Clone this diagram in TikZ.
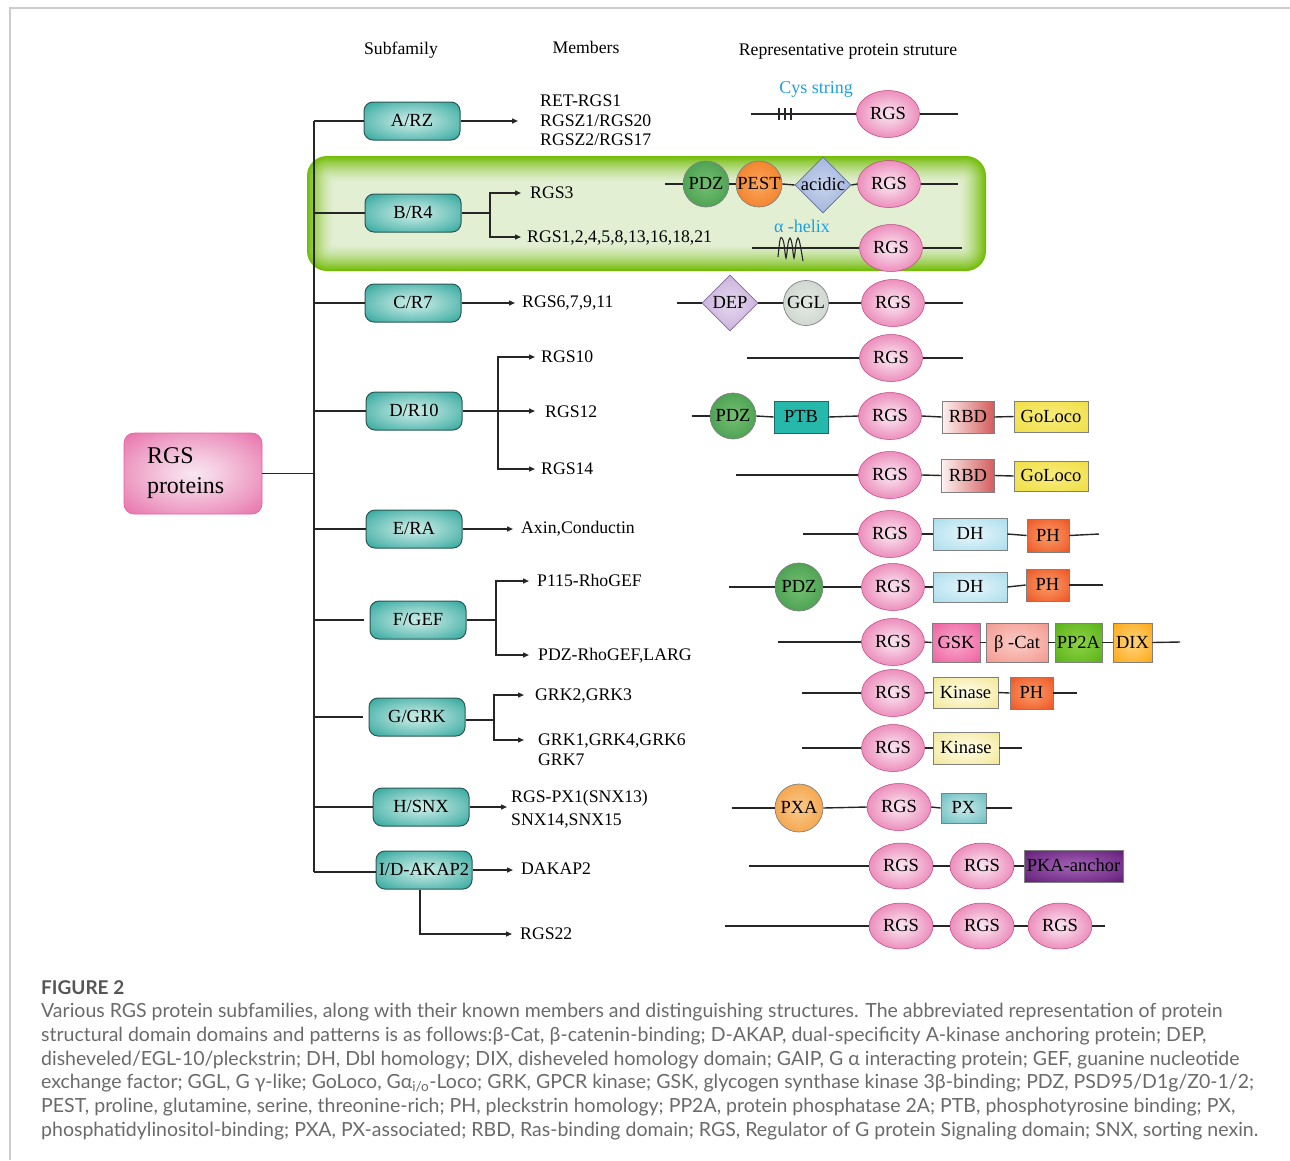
\documentclass[tikz,border=0pt]{standalone}
\usepackage{fontspec}
\setmainfont{Liberation Serif}
\newfontfamily\capfont{Lato}
\usetikzlibrary{shapes.geometric,arrows.meta,calc}
\definecolor{tealout}{HTML}{129A8F}
\definecolor{tealin}{HTML}{CBECE7}
\definecolor{tealborder}{HTML}{2C5753}
\definecolor{pinkout}{HTML}{E55FA0}
\definecolor{pinkin}{HTML}{F8E6F0}
\definecolor{rgsout}{HTML}{E24F97}
\definecolor{rgsin}{HTML}{FAE4EF}
\definecolor{grnout}{HTML}{72BC06}
\definecolor{grnin}{HTML}{E2EFD3}
\definecolor{pdzout}{HTML}{358F40}
\definecolor{pdzin}{HTML}{72BE70}
\definecolor{pestout}{HTML}{F06E12}
\definecolor{pestin}{HTML}{F9A45A}
\definecolor{acidout}{HTML}{8CA2D2}
\definecolor{acidin}{HTML}{C6D2EC}
\definecolor{depout}{HTML}{BA98D0}
\definecolor{depin}{HTML}{E4D6EE}
\definecolor{gglout}{HTML}{C2CCC2}
\definecolor{gglin}{HTML}{E4E8E4}
\definecolor{ptbout}{HTML}{27B8AC}
\definecolor{ptbin}{HTML}{4FD0C6}
\definecolor{rbdl}{HTML}{FDF2F2}
\definecolor{rbdr}{HTML}{D35C5C}
\definecolor{golout}{HTML}{EEDC3A}
\definecolor{golin}{HTML}{F8EC7C}
\definecolor{dhout}{HTML}{A0D9EA}
\definecolor{dhin}{HTML}{E4F5FA}
\definecolor{phout}{HTML}{EC4818}
\definecolor{phin}{HTML}{F99A66}
\definecolor{gskout}{HTML}{EC5499}
\definecolor{gskin}{HTML}{F8A6CA}
\definecolor{bcatout}{HTML}{F29086}
\definecolor{bcatin}{HTML}{FACAC4}
\definecolor{ppout}{HTML}{50AC10}
\definecolor{ppin}{HTML}{8CD244}
\definecolor{dixout}{HTML}{FFA000}
\definecolor{dixin}{HTML}{FFD27A}
\definecolor{kinout}{HTML}{F0E488}
\definecolor{kinin}{HTML}{FFFCE8}
\definecolor{pxaout}{HTML}{F39028}
\definecolor{pxain}{HTML}{F9C88A}
\definecolor{pxout}{HTML}{58B4B8}
\definecolor{pxin}{HTML}{C6E9EA}
\definecolor{pkaout}{HTML}{5A1270}
\definecolor{pkain}{HTML}{A060B4}
\definecolor{bluetxt}{HTML}{1BA1E2}
\definecolor{captxt}{HTML}{6A6A6A}
\definecolor{capbold}{HTML}{555555}
\definecolor{framec}{HTML}{CCCCCC}
\colorlet{glowin}{white}
\colorlet{glowout}{black}
\pgfdeclareradialshading[glowin,glowout]{glow}{\pgfpointorigin}{color(0bp)=(glowin); color(8bp)=(glowin!85!glowout); color(24bp)=(glowin!45!glowout); color(40bp)=(glowout); color(100bp)=(glowout)}
\begin{document}
\begin{tikzpicture}[x=1pt,y=-1pt,
  ln/.style={line width=1.4pt, draw=black!85},
  arr/.style={ln, -{Triangle[length=6pt,width=5pt]}},
  glow/.style 2 args={/utils/exec={\colorlet{glowin}{#1}\colorlet{glowout}{#2}}, shade, shading=glow},
  sub/.style={rectangle, rounded corners=9pt, minimum width=96pt, minimum height=38pt, inner sep=0pt, text height=11.5pt, text depth=0pt, draw=tealborder, line width=1pt, glow={tealin}{tealout}, font=\fontsize{18.5}{20}\selectfont},
  mem/.style={inner sep=0pt, text height=11.5pt, text depth=0pt, font=\fontsize{17.7}{20}\selectfont, anchor=west},
  rgs/.style={ellipse, minimum width=63pt, minimum height=47pt, inner sep=0pt, text height=11.5pt, text depth=0pt, glow={rgsin}{rgsout}, draw=rgsout!85!black, line width=0.5pt, font=\fontsize{18.5}{20}\selectfont},
  dom/.style={inner sep=0pt, text height=11.5pt, text depth=0pt, draw=black!50, line width=0.7pt, font=\fontsize{18.5}{20}\selectfont},
  circ/.style={dom, circle, minimum size=46pt},
  dbox/.style={dom, rectangle},
  diam/.style={dom, diamond, minimum width=56pt, minimum height=56pt},
  bl/.style={text=bluetxt, font=\fontsize{18}{20}\selectfont, inner sep=0pt, text height=11.5pt, text depth=0pt},
  captext/.style={font=\capfont\fontsize{19.5}{22}\selectfont, text=captxt, inner sep=0pt, anchor=base west}
]
\useasboundingbox (0,0) rectangle (1290,1160);
% frame
\draw[framec, line width=2pt] (10,1160) -- (10,8) -- (1290,8);

% green highlight
\foreach \k in {0,...,26}{
  \pgfmathtruncatemacro\pc{100*(1-\k/27)^1.5}
  \pgfmathsetmacro\rr{max(20-0.8*\k,2)}
  \fill[grnout!\pc!grnin, rounded corners=\rr pt] (307+\k,156+\k) rectangle (986-\k,271-\k);
}

% headers
\node[mem, anchor=center] (h1) at (401,49) {Subfamily};
\node[mem, anchor=center] (h2) at (586,48) {Members};
\node[mem, anchor=center] (h3) at (848,50) {Representative protein struture};

% root
\node[rectangle, rounded corners=10pt, minimum width=138pt, minimum height=81pt, glow={pinkin}{pinkout}, draw=pinkout, line width=0.6pt, text width=92pt, align=left, font=\fontsize{24}{30}\selectfont, inner sep=0pt] (rgsp) at (193,473.5) {RGS\\proteins};

% subfamilies
\node[sub] (sA) at (412,121) {A/RZ};
\node[sub] (sB) at (413,213) {B/R4};
\node[sub] (sC) at (413,303) {C/R7};
\node[sub] (sD) at (414,411) {D/R10};
\node[sub] (sE) at (414,529) {E/RA};
\node[sub] (sF) at (418,620) {F/GEF};
\node[sub] (sG) at (417,717) {G/GRK};
\node[sub] (sH) at (421,807) {H/SNX};
\node[sub] (sI) at (424,870) {I/D-AKAP2};

\coordinate (tT) at (314,121);
\coordinate (tB) at (314,872);
\draw[ln] (tT) -- (tB);
\draw[ln] (rgsp.east) -- (rgsp.east -| tT);
\foreach \s in {sA,sB,sC,sD,sE,sH}{\draw[ln] (\s.west -| tT) -- (\s.west);}
\draw[ln, shorten >=6pt] (sF.west -| tT) -- (sF.west);
\draw[ln, shorten >=6pt] (sG.west -| tT) -- (sG.west);
\draw[ln] (tB) -- (sI.west |- tB);

% members
\node[mem] (mA1) at (540,101) {RET-RGS1};
\node[mem] (mA2) at (540,121) {RGSZ1/RGS20};
\node[mem] (mA3) at (540,140) {RGSZ2/RGS17};
\draw[arr, shorten >=22pt] (sA.east) -- (sA.east -| mA2.west);

\node[mem] (mB1) at (530,193) {RGS3};
\node[mem] (mB2) at (527,237) {RGS1,2,4,5,8,13,16,18,21};
\coordinate (bB) at (490,213);
\draw[ln] (sB.east) -- (bB);
\draw[arr, shorten >=9pt] (bB) |- (mB1.west);
\draw[arr, shorten >=6pt] (bB) |- (mB2.west);

\node[mem] (mC) at (522,302) {RGS6,7,9,11};
\draw[arr, shorten >=7pt] (sC.east) -- (sC.east -| mC.west);

\node[mem] (mD1) at (541,357) {RGS10};
\node[mem] (mD2) at (545,412) {RGS12};
\node[mem] (mD3) at (541,469) {RGS14};
\coordinate (bD) at (498,411);
\draw[ln] (sD.east) -- (bD);
\draw[arr, shorten >=6pt] (bD) |- (mD1.west);
\draw[arr, shorten >=10pt] (bD) -- (bD -| mD2.west);
\draw[arr, shorten >=6pt] (bD) |- (mD3.west);

\node[mem] (mE) at (521,528) {Axin,Conductin};
\draw[arr, shorten >=8pt] (sE.east) -- (sE.east -| mE.west);

\node[mem] (mF1) at (537,581) {P115-RhoGEF};
\node[mem] (mF2) at (538,655) {PDZ-RhoGEF,LARG};
\coordinate (bF) at (496,620);
\draw[ln] (sF.east) -- (bF);
\draw[arr, shorten >=8pt] (bF) |- (mF1.west);
\draw[arr, shorten >=9pt] (bF) |- (mF2.west);

\node[mem] (mG1) at (535,695) {GRK2,GRK3};
\node[mem] (mG2) at (538,740) {GRK1,GRK4,GRK6};
\node[mem] (mG3) at (538,760) {GRK7};
\coordinate (bG) at (494,720);
\draw[ln] (sG.east |- bG) -- (bG);
\draw[arr, shorten >=11pt] (bG) |- (mG1.west);
\draw[arr, shorten >=14pt] (bG) |- (mG2.west);

\node[mem] (mH1) at (511,797) {RGS-PX1(SNX13)};
\node[mem] (mH2) at (511,820) {SNX14,SNX15};
\draw[arr, shorten >=4pt] (sH.east) -- (sH.east -| mH1.west);

\node[mem] (mI1) at (521,869) {DAKAP2};
\node[mem] (mI2) at (520,934) {RGS22};
\draw[arr, shorten >=8pt] (sI.east) -- (sI.east -| mI1.west);
\draw[arr, shorten >=8pt] ([xshift=-4pt]sI.south) |- (mI2.west);

% ---------- structures ----------
% Row A
\node[bl] (cys) at (816,88) {Cys string};
\node[rgs] (a1) at (888,114) {RGS};
\coordinate (aS) at (751,114);
\coordinate (aE) at (958,114);
\draw[ln] (aS) -- (a1.west);
\draw[ln] (a1.east) -- (aE);
\foreach \x in {779,785,791}{\draw[ln, line width=1.2pt] (\x,108) -- (\x,120);}

% Row B1
\node[circ, glow={pdzin}{pdzout}] (b1p) at (706,184) {PDZ};
\node[circ, glow={pestin}{pestout}] (b1e) at (759,184) {PEST};
\node[diam, glow={acidin}{acidout}, draw=acidout!70!black] (b1a) at (823,185) {acidic};
\node[rgs] (b1r) at (889,184) {RGS};
\coordinate (b1S) at (665,184);
\coordinate (b1E) at (958,184);
\draw[ln] (b1S) -- (b1p.west);
\draw[ln] (b1p.east) -- (b1e.west);
\draw[ln] (b1e.east) -- (b1a.west);
\draw[ln] (b1a.east) -- (b1r.west);
\draw[ln] (b1r.east) -- (b1E);

% Row B2
\node[bl] (ahx) at (802,227) {α -helix};
\node[rgs] (b2r) at (891,248) {RGS};
\coordinate (b2S) at (752,248);
\coordinate (b2E) at (962,248);
\draw[ln] (b2S) -- (b2r.west);
\draw[ln] (b2r.east) -- (b2E);
\draw[ln, line width=1.1pt] plot[smooth, tension=0.6] coordinates {(778,257) (780,240) (782,238) (784,244) (786,258) (788,244) (790,238) (792,244) (794,258) (796,244) (798,238) (800,244) (803,261)};

% Row C
\node[diam, glow={depin}{depout}, draw=depout!70!black] (cd) at (730,303) {DEP};
\node[circ, glow={gglin}{gglout}, minimum size=45pt] (cg) at (806,303) {GGL};
\node[rgs] (cr) at (893,303) {RGS};
\coordinate (cS) at (677,303);
\coordinate (cE) at (963,303);
\draw[ln] (cS) -- (cd.west);
\draw[ln] (cd.east) -- (cg.west);
\draw[ln] (cg.east) -- (cr.west);
\draw[ln] (cr.east) -- (cE);

% Row D1
\node[rgs] (d1r) at (891,358) {RGS};
\coordinate (d1S) at (747,358);
\coordinate (d1E) at (963,358);
\draw[ln] (d1S) -- (d1r.west);
\draw[ln] (d1r.east) -- (d1E);

% Row D2
\node[circ, glow={pdzin}{pdzout}] (d2p) at (733,416) {PDZ};
\node[dbox, fill=ptbout, draw=ptbout!60!black, minimum width=54pt, minimum height=32pt] (d2t) at (801,417) {PTB};
\node[rgs] (d2r) at (890,416) {RGS};
\node[dbox, left color=rbdl, right color=rbdr, minimum width=52pt, minimum height=32pt] (d2b) at (968,417) {RBD};
\node[dbox, glow={golin}{golout}, minimum width=74pt, minimum height=31pt] (d2g) at (1051,416.5) {GoLoco};
\coordinate (d2S) at (692,416);
\draw[ln] (d2S) -- (d2p.west);
\draw[ln] (d2p.east) -- (d2t.west);
\draw[ln] (d2t.east) -- (d2r.west);
\draw[ln] (d2r.east) -- (d2b.west);
\draw[ln] (d2b.east) -- (d2g.west);

% Row D3
\node[rgs] (d3r) at (890,475) {RGS};
\node[dbox, left color=rbdl, right color=rbdr, minimum width=53pt, minimum height=33pt] (d3b) at (968,475.5) {RBD};
\node[dbox, glow={golin}{golout}, minimum width=74pt, minimum height=30pt] (d3g) at (1051,476) {GoLoco};
\coordinate (d3S) at (736,475);
\draw[ln] (d3S) -- (d3r.west);
\draw[ln] (d3r.east) -- (d3b.west);
\draw[ln] (d3b.east) -- (d3g.west);

% Row E
\node[rgs] (er) at (890,534) {RGS};
\node[dbox, glow={dhin}{dhout}, minimum width=74pt, minimum height=32pt] (ed) at (970,534) {DH};
\node[dbox, glow={phin}{phout}, minimum width=42pt, minimum height=33pt] (eh) at (1048,535.5) {PH};
\coordinate (eS) at (803,534);
\coordinate (eE) at (1099,534);
\draw[ln] (eS) -- (er.west);
\draw[ln] (er.east) -- (ed.west);
\draw[ln] (ed.east) -- (eh.west);
\draw[ln] (eh.east) -- (eE);

% Row F1
\node[circ, glow={pdzin}{pdzout}, minimum size=48pt] (f1p) at (799,587) {PDZ};
\node[rgs] (f1r) at (893,587) {RGS};
\node[dbox, glow={dhin}{dhout}, minimum width=74pt, minimum height=30pt] (f1d) at (970,587) {DH};
\node[dbox, glow={phin}{phout}, minimum width=43pt, minimum height=32pt] (f1h) at (1047.5,585) {PH};
\coordinate (f1S) at (729,587);
\coordinate (f1E) at (1103,585);
\draw[ln] (f1S) -- (f1p.west);
\draw[ln] (f1p.east) -- (f1r.west);
\draw[ln] (f1r.east) -- (f1d.west);
\draw[ln] (f1d.east) -- (f1h.west);
\draw[ln] (f1h.east) -- (f1E);

% Row F2
\node[rgs] (f2r) at (893,642) {RGS};
\node[dbox, glow={gskin}{gskout}, minimum width=48pt, minimum height=39pt] (f2g) at (956,642.5) {GSK};
\node[dbox, glow={bcatin}{bcatout}, minimum width=62pt, minimum height=39pt] (f2c) at (1017,642.5) {β -Cat};
\node[dbox, glow={ppin}{ppout}, minimum width=47pt, minimum height=39pt] (f2p) at (1078.5,642.5) {PP2A};
\node[dbox, glow={dixin}{dixout}, minimum width=39pt, minimum height=39pt] (f2x) at (1132.5,642.5) {DIX};
\coordinate (f2S) at (778,642);
\coordinate (f2E) at (1180,642);
\draw[ln] (f2S) -- (f2r.west);
\draw[ln] (f2r.east) -- (f2g.west);
\draw[ln] (f2g.east) -- (f2c.west);
\draw[ln] (f2c.east) -- (f2p.west);
\draw[ln] (f2p.east) -- (f2x.west);
\draw[ln] (f2x.east) -- (f2E);

% Row G1
\node[rgs] (g1r) at (893,693) {RGS};
\node[dbox, glow={kinin}{kinout}, minimum width=65pt, minimum height=31pt] (g1k) at (965.5,692.5) {Kinase};
\node[dbox, glow={phin}{phout}, minimum width=43pt, minimum height=32pt] (g1h) at (1031.5,693) {PH};
\coordinate (g1S) at (802,693);
\coordinate (g1E) at (1077,693);
\draw[ln] (g1S) -- (g1r.west);
\draw[ln] (g1r.east) -- (g1k.west);
\draw[ln] (g1k.east) -- (g1h.west);
\draw[ln] (g1h.east) -- (g1E);

% Row G2
\node[rgs] (g2r) at (893,748) {RGS};
\node[dbox, glow={kinin}{kinout}, minimum width=66pt, minimum height=32pt] (g2k) at (966,748) {Kinase};
\coordinate (g2S) at (802,748);
\coordinate (g2E) at (1022,748);
\draw[ln] (g2S) -- (g2r.west);
\draw[ln] (g2r.east) -- (g2k.west);
\draw[ln] (g2k.east) -- (g2E);

% Row H
\node[circ, glow={pxain}{pxaout}, minimum size=48pt] (hp) at (799,808) {PXA};
\node[rgs, minimum width=64pt] (hr) at (899,807) {RGS};
\node[dbox, glow={pxin}{pxout}, minimum width=45pt, minimum height=30pt] (hx) at (963.5,808) {PX};
\coordinate (hS) at (732,808);
\coordinate (hE) at (1012,808);
\draw[ln] (hS) -- (hp.west);
\draw[ln] (hp.east) -- (hr.west);
\draw[ln] (hr.east) -- (hx.west);
\draw[ln] (hx.east) -- (hE);

% Row I1
\node[rgs, minimum width=64pt, minimum height=46pt] (i1r) at (901,866) {RGS};
\node[rgs, minimum width=64pt, minimum height=46pt] (i1s) at (982,866) {RGS};
\node[dbox, glow={pkain}{pkaout}, minimum width=99pt, minimum height=32pt] (i1k) at (1073.5,866) {PKA-anchor};
\coordinate (i1S) at (749,866);
\draw[ln] (i1S) -- (i1r.west);
\draw[ln] (i1r.east) -- (i1s.west);
\draw[ln] (i1s.east) -- (i1k.west);

% Row I2
\node[rgs, minimum width=64pt, minimum height=46pt] (i2a) at (901,926) {RGS};
\node[rgs, minimum width=64pt, minimum height=46pt] (i2b) at (982,926) {RGS};
\node[rgs, minimum width=64pt, minimum height=46pt] (i2c) at (1060,926) {RGS};
\coordinate (i2S) at (725,926);
\coordinate (i2E) at (1105,926);
\draw[ln] (i2S) -- (i2a.west);
\draw[ln] (i2a.east) -- (i2b.west);
\draw[ln] (i2b.east) -- (i2c.west);
\draw[ln] (i2c.east) -- (i2E);

% caption
\node[captext, text=capbold, font=\capfont\bfseries\fontsize{19}{22}\selectfont] (c0) at (41,994.5) {FIGURE 2};
\node[captext] (c1) at (41,1017.5) {Various RGS protein subfamilies, along with their known members and distinguishing structures. The abbreviated representation of protein};
\node[captext] (c2) at (41,1041.5) {structural domain domains and patterns is as follows:β-Cat, β-catenin-binding; D-AKAP, dual-specificity A-kinase anchoring protein; DEP,};
\node[captext] (c3) at (41,1065) {disheveled/EGL-10/pleckstrin; DH, Dbl homology; DIX, disheveled homology domain; GAIP, G α interacting protein; GEF, guanine nucleotide};
\node[captext] (c4) at (41,1088.5) {exchange factor; GGL, G γ-like; GoLoco, Gα\textsubscript{i/o}-Loco; GRK, GPCR kinase; GSK, glycogen synthase kinase 3β-binding; PDZ, PSD95/D1g/Z0-1/2;};
\node[captext] (c5) at (41,1112.5) {PEST, proline, glutamine, serine, threonine-rich; PH, pleckstrin homology; PP2A, protein phosphatase 2A; PTB, phosphotyrosine binding; PX,};
\node[captext] (c6) at (41,1136.5) {phosphatidylinositol-binding; PXA, PX-associated; RBD, Ras-binding domain; RGS, Regulator of G protein Signaling domain; SNX, sorting nexin.};
\end{tikzpicture}
\end{document}
